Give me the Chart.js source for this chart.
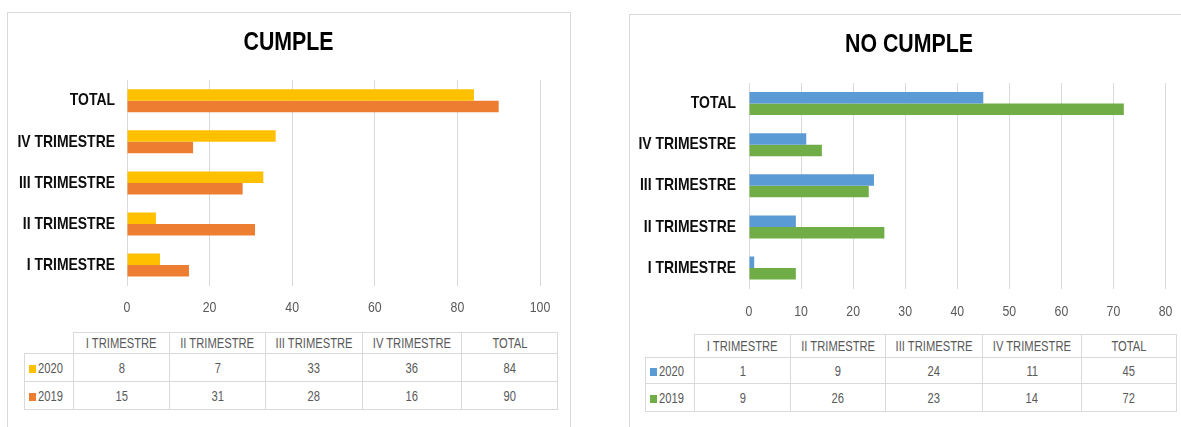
<!DOCTYPE html>
<html>
<head>
<meta charset="utf-8">
<script src="https://cdn.jsdelivr.net/npm/chart.js@4.4.0/dist/chart.umd.min.js"></script>
<style>
  body { margin: 0; width: 1181px; height: 427px; background: #fff; overflow: hidden; position: relative;
         font-family: 'Liberation Sans', Arial, sans-serif; }
  .box { position: absolute; border: 1px solid #D9D9D9; }
  canvas { position: absolute; }
  table { position: absolute; border-collapse: collapse; table-layout: fixed; color: #595959; font-size: 14px; }
  td { border: 1px solid #D9D9D9; text-align: center; padding: 0; white-space: nowrap; overflow: visible; }
  td.blank { border: none; }
  td.year { text-align: left; padding-left: 4px; }
  .txt { display: inline-block; transform: scaleX(0.8); }
  td.year .txt { transform-origin: left center; }
  .key { display: inline-block; width: 7px; height: 8px; margin-right: 2px; }
</style>
</head>
<body>
<div class="box" style="left:7px; top:12px; width:562px; height:440px;"></div>
<div class="box" style="left:629px; top:14px; width:600px; height:440px;"></div>
<canvas id="cumpleChart" width="563" height="308" style="left:7px; top:12px;"></canvas>
<canvas id="noCumpleChart" width="560" height="310" style="left:629px; top:14px;"></canvas>
<table id="cumpleTable" style="left:24px; top:332px;"></table>
<table id="noCumpleTable" style="left:645px; top:334px;"></table>
<script>
// data
const categories = ['I TRIMESTRE', 'II TRIMESTRE', 'III TRIMESTRE', 'IV TRIMESTRE', 'TOTAL'];
const years = ['2020', '2019'];
const cumple2020 = [8, 7, 33, 36, 84];
const cumple2019 = [15, 31, 28, 16, 90];
const noCumple2020 = [1, 9, 24, 11, 45];
const noCumple2019 = [9, 26, 23, 14, 72];
const cumpleTicks = [0, 20, 40, 60, 80, 100];
const noCumpleTicks = [0, 10, 20, 30, 40, 50, 60, 70, 80];

const family = "'Liberation Sans', Arial, sans-serif";

// no narrow font installed, so squeeze the canvas text sideways (like Arial Narrow)
const condensePlugin = {
    id: 'condense',
    beforeInit(chart) {
        const ctx = chart.ctx;
        const fill = ctx.fillText.bind(ctx);
        ctx.fillText = function (text, x, y) {
            ctx.save();
            ctx.translate(x, y);
            ctx.scale(0.82, 1);
            fill(text, 0, 0);
            ctx.restore();
        };
    }
};

// title centred on the whole box, not on the padded area
const centreTitlePlugin = {
    id: 'centreTitle',
    afterLayout(chart) {
        if (chart.titleBlock) {
            chart.titleBlock.left = 0;
            chart.titleBlock.right = chart.width;
        }
    }
};

function makeChart(id, title, values2020, values2019, colors, ticks, pos) {
    const ctx = document.getElementById(id);
    return new Chart(ctx, {
        type: 'bar',
        plugins: [condensePlugin, centreTitlePlugin],
        data: {
            labels: categories,
            datasets: [
                { label: years[0], data: values2020, backgroundColor: colors[0], borderWidth: 0,
                  categoryPercentage: 0.56, barPercentage: 1 },
                { label: years[1], data: values2019, backgroundColor: colors[1], borderWidth: 0,
                  categoryPercentage: 0.56, barPercentage: 1 }
            ]
        },
        options: {
            indexAxis: 'y',
            responsive: false,
            animation: false,
            devicePixelRatio: 1,
            layout: { padding: { left: 0, right: pos.right, top: 0, bottom: 0 } },
            plugins: {
                legend: { display: false },
                tooltip: { enabled: false },
                title: {
                    display: true,
                    text: title,
                    color: '#000',
                    font: { family: family, size: 26, weight: 'bold' },
                    padding: { top: pos.titleTop, bottom: pos.titleBottom }
                }
            },
            scales: {
                y: {
                    reverse: true,
                    grid: { display: false, drawTicks: false },
                    border: { display: false },
                    ticks: { color: '#0d0d0d', padding: pos.labelPad,
                             font: { family: family, size: 17, weight: 'bold' } },
                    afterFit: (scale) => { scale.width = 120; }
                },
                x: {
                    min: ticks[0],
                    max: ticks[ticks.length - 1],
                    grid: { color: '#D9D9D9', lineWidth: 1, drawTicks: false },
                    border: { display: false },
                    ticks: { stepSize: ticks[1] - ticks[0], color: '#595959', padding: pos.tickPad,
                             font: { family: family, size: 15 } },
                    afterFit: (scale) => { scale.height = pos.axisHeight; }
                }
            }
        }
    });
}

function makeTable(id, values2020, values2019, colors, widths, heights) {
    const table = document.getElementById(id);
    const rows = [[''].concat(categories), [years[0]].concat(values2020), [years[1]].concat(values2019)];
    let html = '<colgroup>';
    widths.forEach(w => { html += '<col style="width:' + w + 'px">'; });
    html += '</colgroup>';
    rows.forEach((row, r) => {
        html += '<tr style="height:' + heights[r] + 'px">';
        row.forEach((cell, c) => {
            if (r === 0 && c === 0) {
                html += '<td class="blank"></td>';
            } else if (c === 0) {
                html += '<td class="year"><span class="key" style="background:' + colors[r - 1] + '"></span>' +
                        '<span class="txt">' + cell + '</span></td>';
            } else {
                html += '<td><span class="txt">' + cell + '</span></td>';
            }
        });
        html += '</tr>';
    });
    table.innerHTML = html;
}

makeChart('cumpleChart', 'CUMPLE', cumple2020, cumple2019, ['#FFC000', '#ED7D31'], cumpleTicks,
    { right: 30, titleTop: 15, titleBottom: 22, labelPad: 12, tickPad: 13, axisHeight: 34.4 });
makeChart('noCumpleChart', 'NO CUMPLE', noCumple2020, noCumple2019, ['#5B9BD5', '#70AD47'], noCumpleTicks,
    { right: 23.5, titleTop: 15.4, titleBottom: 22.4, labelPad: 13, tickPad: 14, axisHeight: 35.4 });

makeTable('cumpleTable', cumple2020, cumple2019, ['#FFC000', '#ED7D31'], [49, 96, 96, 96, 96, 96], [21, 28, 28]);
makeTable('noCumpleTable', noCumple2020, noCumple2019, ['#5B9BD5', '#70AD47'], [49, 96, 95, 96, 96, 95], [23, 26, 28]);
</script>
</body>
</html>
